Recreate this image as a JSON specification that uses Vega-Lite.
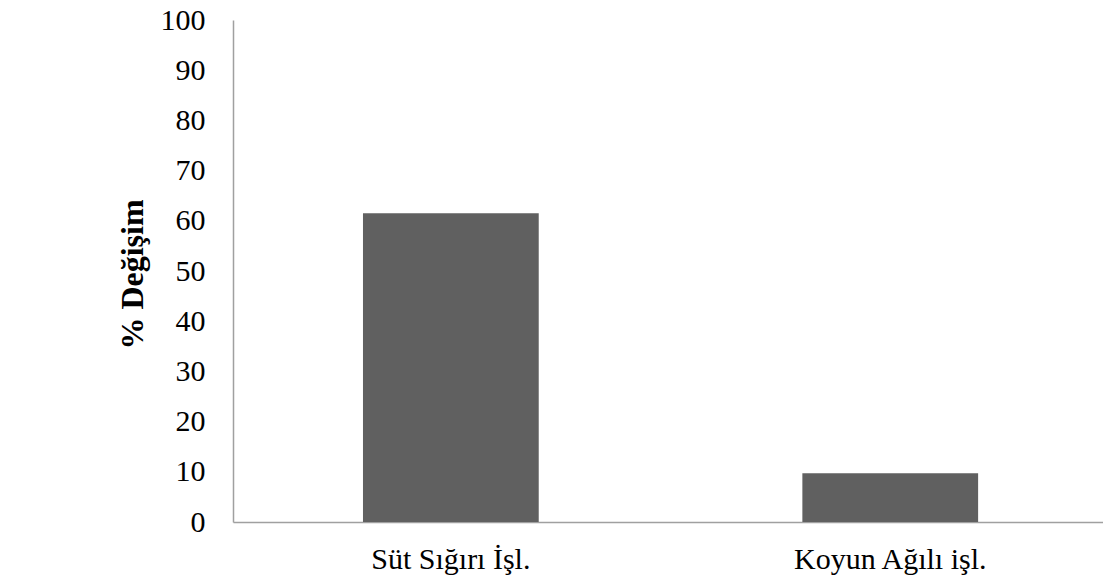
{
  "$schema": "https://vega.github.io/schema/vega-lite/v6.json",
  "autosize": {"type": "none"},
  "padding": {"left": 233, "top": 20, "right": 0, "bottom": 61},
  "width": 870,
  "height": 502,
  "background": "white",
  "data": {"values": [
    {"kategori": "Süt Sığırı İşl.", "degisim": 61.5},
    {"kategori": "Koyun Ağılı işl.", "degisim": 9.7}
  ]},
  "mark": {"type": "bar", "color": "#606060"},
  "encoding": {
    "x": {
      "field": "kategori", "type": "nominal", "sort": null,
      "scale": {"paddingInner": 0.6, "paddingOuter": 0.29, "align": 0.51},
      "axis": {
        "title": null, "labelAngle": 0, "ticks": false, "labelLimit": 0,
        "domainColor": "#a0a0a0", "domainWidth": 1.5,
        "labelFont": "Liberation Serif", "labelFontSize": 30, "labelColor": "#000000",
        "labelPadding": 22
      }
    },
    "y": {
      "field": "degisim", "type": "quantitative",
      "scale": {"domain": [0, 100], "nice": false},
      "axis": {
        "title": "% Değişim", "values": [0,10,20,30,40,50,60,70,80,90,100],
        "grid": false, "ticks": false,
        "domainColor": "#a0a0a0", "domainWidth": 1.5,
        "labelFont": "Liberation Serif", "labelFontSize": 30, "labelColor": "#000000",
        "labelPadding": 28,
        "titleFont": "Liberation Serif", "titleFontSize": 32, "titleFontWeight": "bold",
        "titleColor": "#000000", "titleAngle": 270, "titleX": -101, "titleY": 254,
        "titleAlign": "center", "titleBaseline": "middle"
      }
    }
  },
  "config": {"view": {"stroke": null}}
}
